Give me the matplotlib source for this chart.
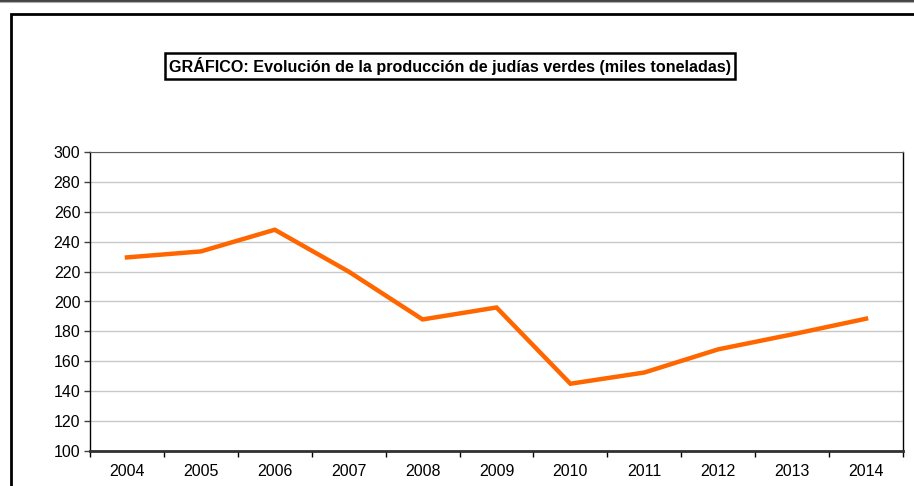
import matplotlib
matplotlib.use("Agg")
import matplotlib.pyplot as plt
from matplotlib.lines import Line2D

plt.rcParams['font.family'] = ['Liberation Sans', 'DejaVu Sans']

years = ['2004', '2005', '2006', '2007', '2008', '2009', '2010', '2011', '2012', '2013', '2014']
produccion = [229.5, 233.5, 248, 220, 188, 196, 145, 152.5, 168, 178, 188.5]
yticks = [100, 120, 140, 160, 180, 200, 220, 240, 260, 280, 300]

W, H = 914, 486
fig = plt.figure(figsize=(W / 100, H / 100), dpi=100)

# plot area in pixels: x 90..903, y 152..451
ax = fig.add_axes([90 / W, 1 - 451 / H, (903 - 90) / W, (451 - 152) / H])

x = list(range(len(years)))
ax.plot(x, produccion, color='#FF6600', linewidth=3.2, solid_joinstyle='miter', zorder=3)

ax.set_xlim(-0.5, len(years) - 0.5)
ax.set_ylim(100, 300)
ax.set_yticks(yticks)
ax.set_yticklabels([str(v) for v in yticks], fontsize=11.5)
ax.yaxis.grid(True, color='#c8c8c8', linewidth=1)
ax.set_axisbelow(True)

# category labels between the boundary ticks
ax.set_xticks([i - 0.5 for i in range(len(years) + 1)])
ax.set_xticklabels([])
ax.set_xticks(x, minor=True)
ax.set_xticklabels(years, minor=True, fontsize=11.5)
ax.tick_params(axis='x', which='minor', length=0, pad=9)
ax.tick_params(axis='x', which='major', length=4, width=1, color='black')
ax.tick_params(axis='y', length=4, width=1, color='#404040', pad=3)

ax.spines['left'].set_color('black')
ax.spines['right'].set_color('black')
ax.spines['top'].set_color('#606060')
ax.spines['bottom'].set_color('#303030')
ax.spines['bottom'].set_linewidth(2)
ax.spines['left'].set_linewidth(1)
ax.spines['right'].set_linewidth(1)

# title in a box
fig.text(450 / W, 1 - 66 / H,
         'GRÁFICO: Evolución de la producción de judías verdes (miles toneladas)',
         ha='center', va='center', fontsize=11.6, fontweight='bold',
         bbox=dict(boxstyle='square,pad=0.22', facecolor='white', edgecolor='black', linewidth=1.8))

# page lines and outer frame
fig.add_artist(Line2D([0, 1], [1 - 0.8 / H, 1 - 0.8 / H], color='#202020', linewidth=1.2, transform=fig.transFigure))
fig.add_artist(Line2D([0, 1], [1 - 2.2 / H, 1 - 2.2 / H], color='#b0b0b0', linewidth=0.8, transform=fig.transFigure))
fig.add_artist(Line2D([11.3 / W, 11.3 / W, 1], [0, 1 - 14.3 / H, 1 - 14.3 / H], color='black', linewidth=2,
                      transform=fig.transFigure, solid_joinstyle='miter'))

fig.savefig('out.png', dpi=100)
